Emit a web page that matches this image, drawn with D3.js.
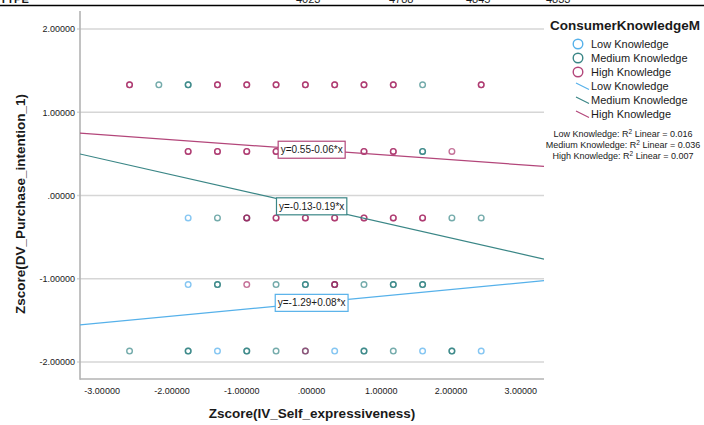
<!DOCTYPE html>
<html>
<head>
<meta charset="utf-8">
<script src="https://cdn.jsdelivr.net/npm/d3@7"></script>
<style>
  body { margin: 0; background: #fff; }
  svg { display: block; }
  text { font-family: "Liberation Sans", Arial, sans-serif; fill: #1a1a1a; }
</style>
</head>
<body>
<svg id="chart" width="704" height="425"></svg>
<script>
// ---- data -------------------------------------------------------------
const groups = ["Low Knowledge", "Medium Knowledge", "High Knowledge"];
const groupColors = ["#3aa3ea", "#1f7878", "#a11c5a"];
const legendColors = ["#56b1ea", "#3a8686", "#b3467a"];

// scatter points: [IV z-score, DV z-score, cases at that spot]
const lowPoints = [
  [-1.76, -0.27, 1], [-1.76, -1.07, 1],
  [-1.34, -1.87, 1], [0.34, -1.87, 1], [1.60, -1.87, 1], [2.44, -1.87, 1]
];
const mediumPoints = [
  [-2.18, 1.33, 1], [-1.76, 1.33, 2], [1.60, 1.33, 1],
  [1.60, 0.53, 2],
  [-1.34, -0.27, 1], [-0.92, -0.27, 1], [2.02, -0.27, 1], [2.44, -0.27, 1],
  [-1.34, -1.07, 2], [-0.50, -1.07, 1], [-0.08, -1.07, 2], [0.34, -1.07, 1],
  [0.76, -1.07, 1], [1.18, -1.07, 2], [1.60, -1.07, 2],
  [-2.60, -1.87, 1], [-1.76, -1.87, 2], [-0.92, -1.87, 2], [-0.50, -1.87, 1],
  [-0.08, -1.87, 1], [0.76, -1.87, 2], [1.18, -1.87, 1], [2.02, -1.87, 2]
];
const highPoints = [
  [-2.60, 1.33, 2], [-1.34, 1.33, 2], [-0.92, 1.33, 2], [-0.50, 1.33, 2],
  [-0.08, 1.33, 2], [0.34, 1.33, 2], [0.76, 1.33, 2], [1.18, 1.33, 2], [2.44, 1.33, 2],
  [-1.76, 0.53, 2], [-1.34, 0.53, 2], [-0.92, 0.53, 2], [-0.50, 0.53, 2],
  [-0.08, 0.53, 2], [0.34, 0.53, 2], [0.76, 0.53, 2], [1.18, 0.53, 2], [2.02, 0.53, 1],
  [-0.92, -0.27, 2], [-0.50, -0.27, 2], [-0.08, -0.27, 2], [0.34, -0.27, 2],
  [0.76, -0.27, 2], [1.18, -0.27, 2], [1.60, -0.27, 2],
  [-0.92, -1.07, 1], [0.34, -1.07, 2],
  [-0.08, -1.87, 1]
];

// linear fits per group
const intercepts = [-1.29, -0.13, 0.55];
const slopes = [0.08, -0.19, -0.06];
const rSquared = ["0.016", "0.036", "0.007"];

const xTicks = [-3, -2, -1, 0, 1, 2, 3];
const xTickLabels = ["-3.00000", "-2.00000", "-1.00000", ".00000", "1.00000", "2.00000", "3.00000"];
const yTicks = [2, 1, 0, -1, -2];
const yTickLabels = ["2.00000", "1.00000", ".00000", "-1.00000", "-2.00000"];

const xTitle = "Zscore(IV_Self_expressiveness)";
const yTitle = "Zscore(DV_Purchase_intention_1)";
const legendTitle = "ConsumerKnowledgeM";

// table row peeking in above the chart
const headerTexts = ["TYPE", "4023", "4788", "4845", "4833"];
const headerX = [0, 296, 389, 466, 546];

// ---- layout -----------------------------------------------------------
const svg = d3.select("#chart");
const plot = { left: 80, right: 544, top: 11, bottom: 379 };

const x = d3.scaleLinear().domain([-3.31, 3.34]).range([plot.left, plot.right]);
const y = d3.scaleLinear().domain([-2.205, 2.217]).range([plot.bottom, plot.top]);

// header rule and clipped text row
svg.append("g").selectAll("text").data(headerTexts).join("text")
  .attr("x", (d, i) => headerX[i]).attr("y", 2.5)
  .style("font-size", "11px").style("font-weight", (d, i) => i === 0 ? "bold" : "normal")
  .text(d => d);
svg.append("line").attr("x1", 0).attr("x2", 704).attr("y1", 5.5).attr("y2", 5.5)
  .attr("stroke", "#000").attr("stroke-width", 1.5);

svg.append("defs").append("clipPath").attr("id", "plotClip")
  .append("rect").attr("x", plot.left).attr("y", plot.top)
  .attr("width", plot.right - plot.left).attr("height", plot.bottom - plot.top);

// horizontal grid lines
svg.append("g").selectAll("line").data(yTicks).join("line")
  .attr("x1", plot.left - 3).attr("x2", plot.right)
  .attr("y1", d => y(d)).attr("y2", d => y(d))
  .attr("stroke", "#d6d6d6").attr("stroke-width", 1.6);

// y axis
const yAxis = d3.axisLeft(y).tickValues(yTicks)
  .tickFormat((d, i) => yTickLabels[i]).tickSize(0).tickPadding(5);
const gy = svg.append("g").attr("transform", `translate(${plot.left},0)`).call(yAxis);
gy.select(".domain").remove();
gy.selectAll("text").style("font-size", "9px").style("fill", "#1a1a1a")
  .style("font-family", '"Liberation Sans", Arial, sans-serif');

// x axis
const xAxis = d3.axisBottom(x).tickValues(xTicks)
  .tickFormat((d, i) => xTickLabels[i]).tickSize(0).tickPadding(9);
const gx = svg.append("g").attr("transform", `translate(0,${plot.bottom})`).call(xAxis);
gx.select(".domain").remove();
gx.selectAll("text").style("font-size", "9px").style("fill", "#1a1a1a")
  .style("font-family", '"Liberation Sans", Arial, sans-serif');

// frame lines
svg.append("line").attr("x1", plot.left).attr("x2", plot.left)
  .attr("y1", plot.top).attr("y2", plot.bottom + 0.8)
  .attr("stroke", "#b3b3b3").attr("stroke-width", 1.6);
svg.append("line").attr("x1", plot.left).attr("x2", plot.right)
  .attr("y1", plot.bottom).attr("y2", plot.bottom)
  .attr("stroke", "#b3b3b3").attr("stroke-width", 1.6);

// scatter points
const pointSets = [lowPoints, mediumPoints, highPoints];
const pts = svg.append("g");
pointSets.forEach((set, gi) => {
  const expanded = [];
  set.forEach(p => { for (let k = 0; k < p[2]; k++) expanded.push(p); });
  pts.selectAll(null).data(expanded).join("circle")
    .attr("cx", d => x(d[0])).attr("cy", d => y(d[1])).attr("r", 2.8)
    .attr("fill", "none").attr("stroke", groupColors[gi])
    .attr("stroke-width", 1.4).attr("stroke-opacity", 0.62);
});

// fit lines
const fitG = svg.append("g").attr("clip-path", "url(#plotClip)");
const xd = x.domain();
groups.forEach((g, gi) => {
  const f = v => intercepts[gi] + slopes[gi] * v;
  fitG.append("line")
    .attr("x1", x(xd[0])).attr("y1", y(f(xd[0])))
    .attr("x2", x(xd[1])).attr("y2", y(f(xd[1])))
    .attr("stroke", legendColors[gi]).attr("stroke-width", 1.2);
});

// equation labels
const fmt = v => (v < 0 ? "-" : "") + Math.abs(v).toFixed(2);
const labG = svg.append("g");
groups.forEach((g, gi) => {
  const txt = "y=" + fmt(intercepts[gi]) + (slopes[gi] < 0 ? "-" : "+") + Math.abs(slopes[gi]).toFixed(2) + "*x";
  const cx = x(0.01), cy = y(intercepts[gi]);
  const t = labG.append("text").attr("x", cx).attr("y", cy + 3.6)
    .attr("text-anchor", "middle").style("font-size", "10px").text(txt);
  const bb = t.node().getBBox();
  labG.insert("rect", "text")
    .attr("x", bb.x - 2.5).attr("y", cy - 8.5)
    .attr("width", bb.width + 5).attr("height", 17)
    .attr("fill", "#fff").attr("stroke", legendColors[gi]).attr("stroke-width", 1.2);
});

// axis titles
svg.append("text").attr("x", (plot.left + plot.right) / 2).attr("y", 418)
  .attr("text-anchor", "middle").style("font-size", "13.5px").style("font-weight", "bold")
  .text(xTitle);
svg.append("text").attr("transform", "translate(25,204) rotate(-90)")
  .attr("text-anchor", "middle").style("font-size", "13.5px").style("font-weight", "bold")
  .text(yTitle);

// legend
const lg = svg.append("g");
lg.append("text").attr("x", 550).attr("y", 30)
  .style("font-size", "13.5px").style("font-weight", "bold").text(legendTitle);
groups.forEach((g, gi) => {
  const cy = 44 + gi * 14;
  lg.append("circle").attr("cx", 578).attr("cy", cy).attr("r", 4.8)
    .attr("fill", "none").attr("stroke", legendColors[gi]).attr("stroke-width", 1.4);
  lg.append("text").attr("x", 591).attr("y", cy + 4).style("font-size", "11px").text(g);
});
groups.forEach((g, gi) => {
  const cy = 86 + gi * 14;
  lg.append("line").attr("x1", 576).attr("y1", cy - 3).attr("x2", 589).attr("y2", cy + 3.5)
    .attr("stroke", legendColors[gi]).attr("stroke-width", 1.2);
  lg.append("text").attr("x", 591).attr("y", cy + 4).style("font-size", "11px").text(g);
});
groups.forEach((g, gi) => {
  const t = lg.append("text").attr("x", 623).attr("y", 137 + gi * 11)
    .attr("text-anchor", "middle").style("font-size", "9px");
  t.append("tspan").text(g + ": R");
  t.append("tspan").attr("dy", -3.5).style("font-size", "6.5px").text("2");
  t.append("tspan").attr("dy", 3.5).text(" Linear = " + rSquared[gi]);
});
</script>
</body>
</html>
